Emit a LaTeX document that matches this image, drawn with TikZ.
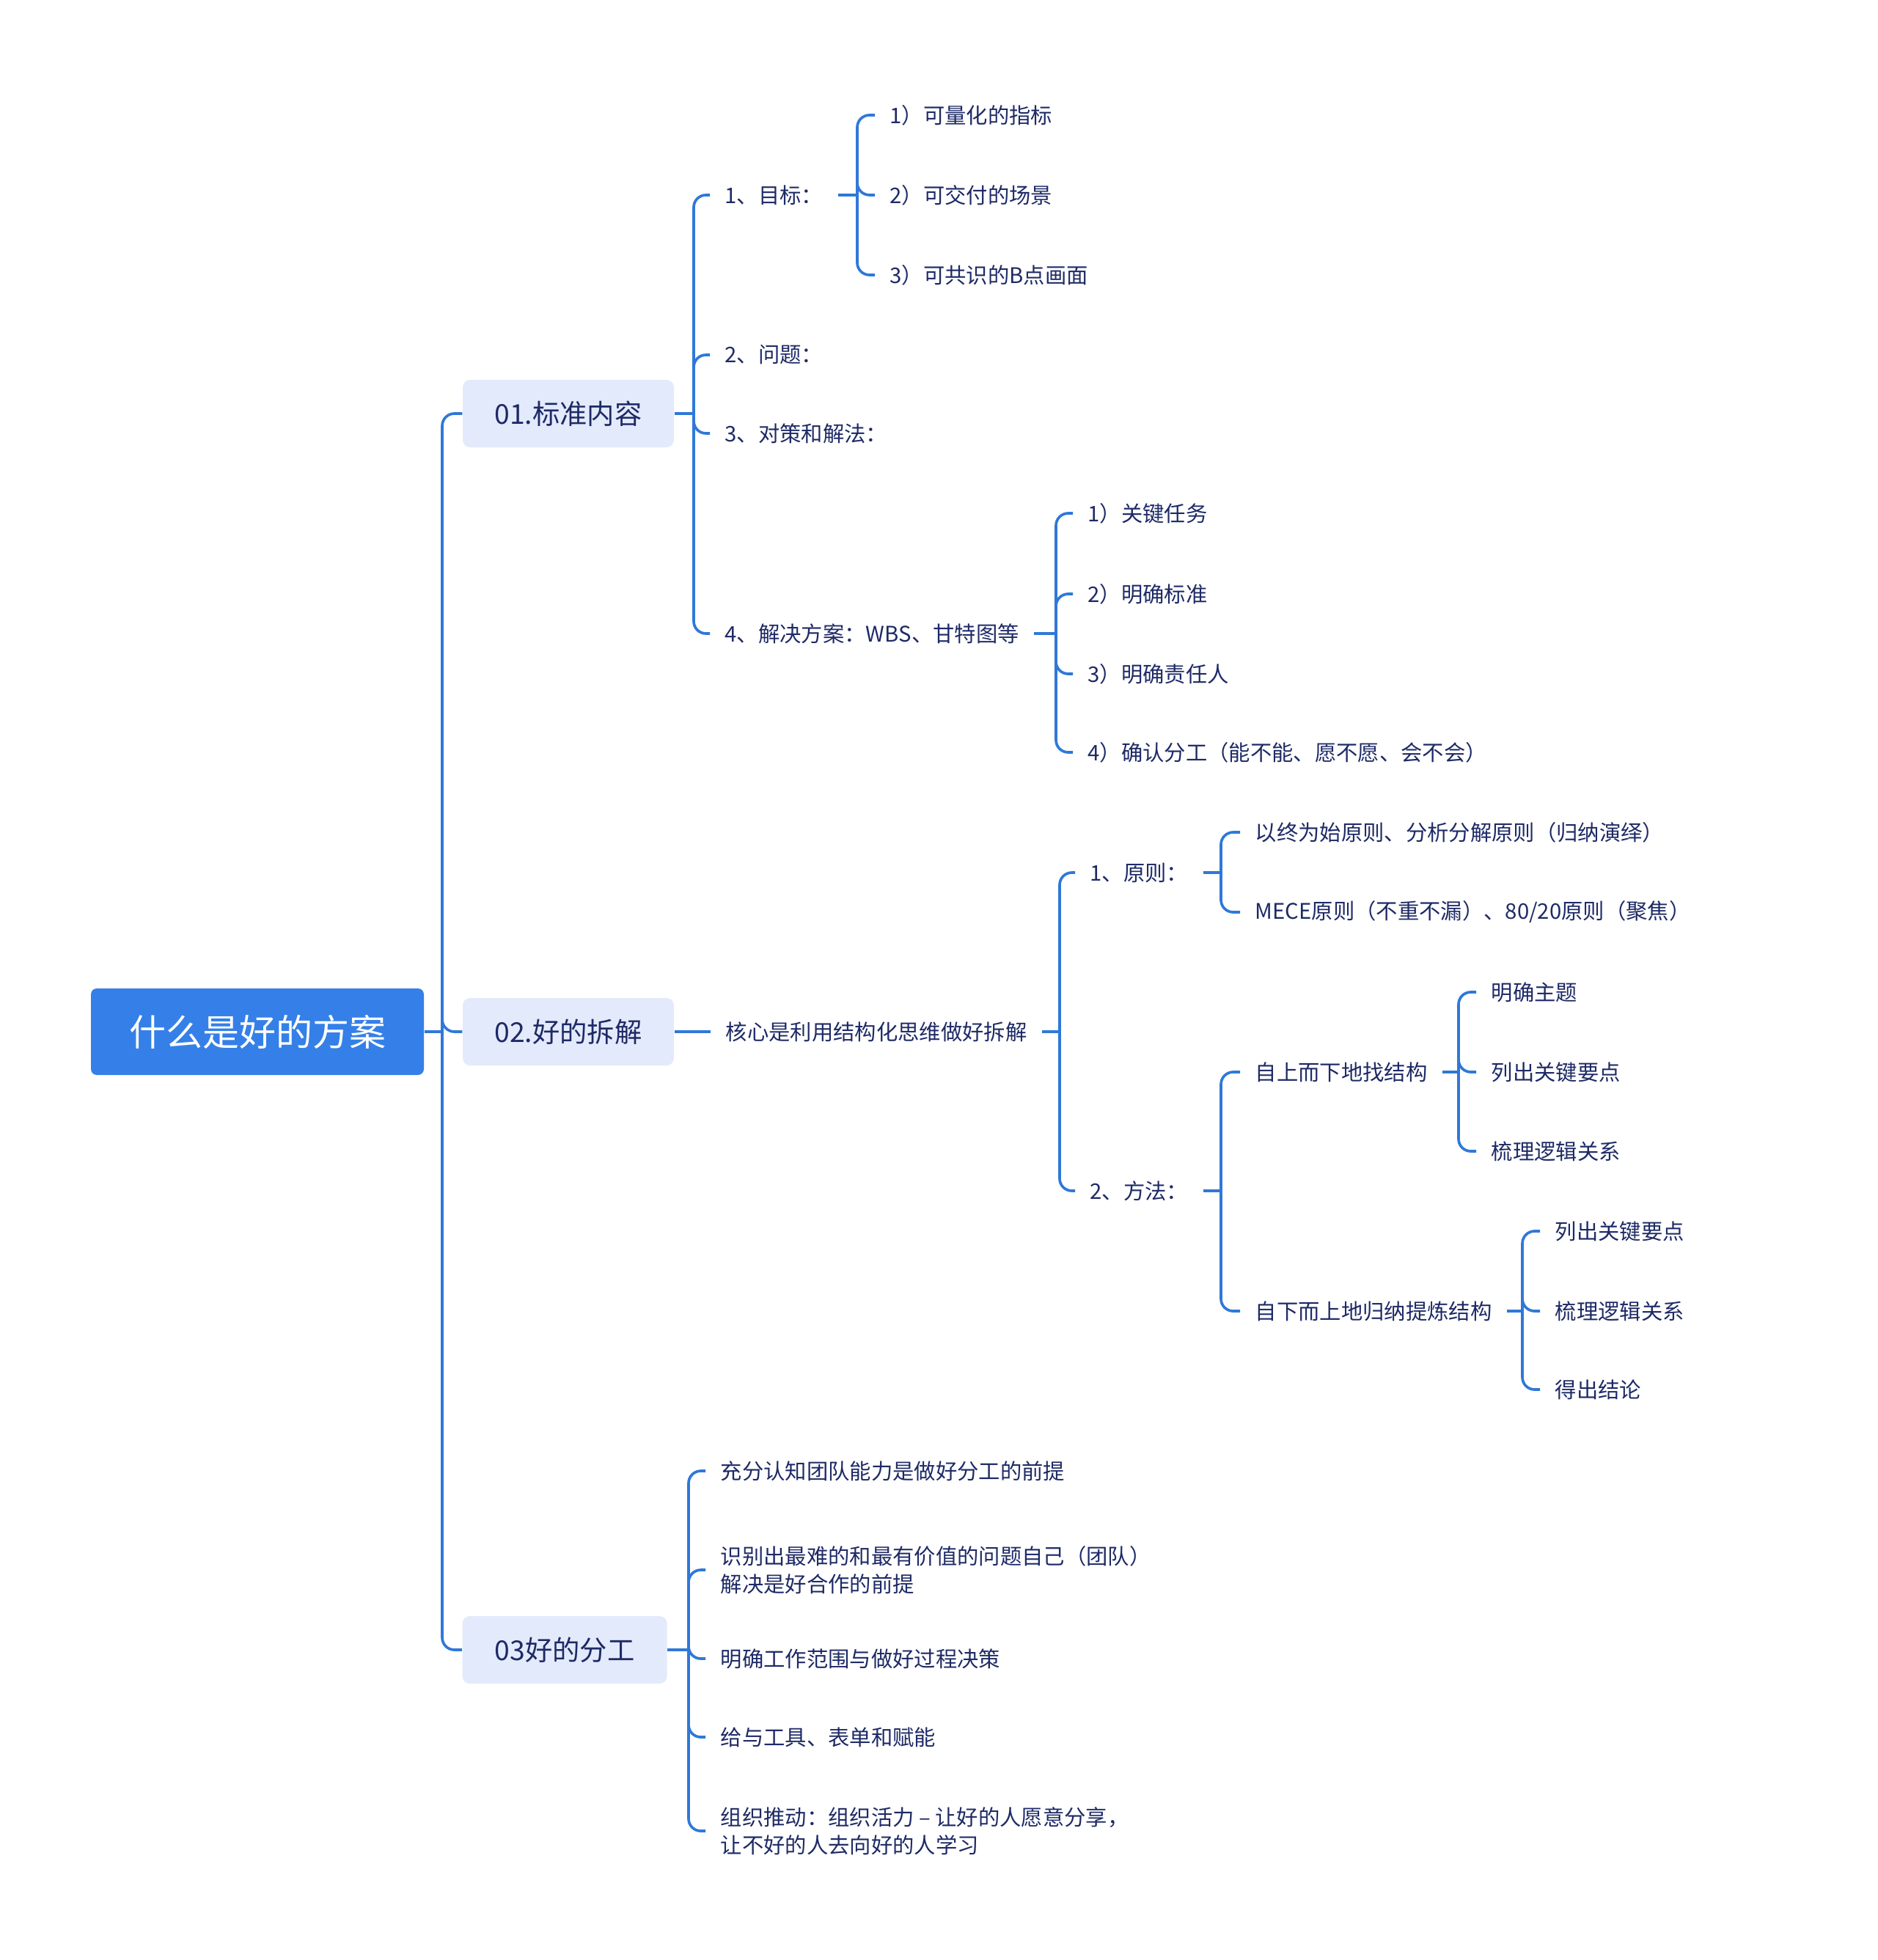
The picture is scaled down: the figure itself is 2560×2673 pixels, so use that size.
\documentclass[tikz,border=0pt]{standalone}
\usepackage{fontspec}
\setmainfont{Noto Sans CJK SC}
\usepackage{tikz}
\definecolor{rootblue}{HTML}{3580E8}
\definecolor{linkblue}{HTML}{2F78D8}
\definecolor{topicfill}{HTML}{E3EAFB}
\definecolor{inkblue}{HTML}{1E2A66}

\begin{document}
\begin{tikzpicture}[x=0.3pt, y=-0.3pt,
    link/.style={linkblue, line width=1.1pt},
    branch/.style={link, rounded corners=5pt},
    root/.style={fill=rootblue, text=white, rounded corners=2.4pt, minimum width=136.2pt, minimum height=35.4pt, font=\fontsize{15}{18}\selectfont},
    topic/.style={fill=topicfill, text=inkblue, rounded corners=3pt, minimum height=27.6pt, font=\fontsize{11.2}{13}\selectfont},
    leaf/.style={anchor=west, inner xsep=6pt, inner ysep=1pt, text=inkblue, align=left, font=\fontsize{8.8}{11.3}\selectfont}]
    \useasboundingbox (0,0) rectangle (2560,2673);

    % Root and the three main topics
    \node[root] (root) at (351,1407) {什么是好的方案};
    \node[topic, minimum width=86.4pt] (std) at (775,564) {01.标准内容};
    \node[topic, minimum width=86.4pt] (split) at (775,1407) {02.好的拆解};
    \node[topic, minimum width=83.7pt] (team) at (770,2250) {03好的分工};
    \coordinate (t0) at (603,1407);
    \draw[link] (root.east) -- (t0);
    \foreach \k in {std,split,team}
        \draw[branch] (t0) |- (\k.west);

    % 01 standard content
    \node[leaf] (goal)  at (968,266) {1、目标：};
    \node[leaf] (issue) at (968,484) {2、问题：};
    \node[leaf] (plan)  at (968,591) {3、对策和解法：};
    \node[leaf] (sol)   at (968,864) {4、解决方案：WBS、甘特图等};
    \coordinate (t1) at (946,564);
    \draw[link] (std.east) -- (t1);
    \foreach \k in {goal,issue,plan,sol}
        \draw[branch] (t1) |- (\k.west);

    % goal items
    \node[leaf] (g1) at (1193,157) {1）可量化的指标};
    \node[leaf] (g2) at (1193,266) {2）可交付的场景};
    \node[leaf] (g3) at (1193,375) {3）可共识的B点画面};
    \coordinate (t2) at (1169,266);
    \draw[link] (goal.east) -- (t2);
    \foreach \k in {g1,g2,g3}
        \draw[branch] (t2) |- (\k.west);

    % solution items
    \node[leaf] (s1) at (1463,700)  {1）关键任务};
    \node[leaf] (s2) at (1463,810)  {2）明确标准};
    \node[leaf] (s3) at (1463,919)  {3）明确责任人};
    \node[leaf] (s4) at (1463,1026) {4）确认分工（能不能、愿不愿、会不会）};
    \coordinate (t3) at (1440,864);
    \draw[link] (sol.east) -- (t3);
    \foreach \k in {s1,s2,s3,s4}
        \draw[branch] (t3) |- (\k.west);

    % 02 good splitting
    \node[leaf] (core) at (969,1407) {核心是利用结构化思维做好拆解};
    \draw[link] (split.east) -- (core.west);
    \node[leaf] (rule) at (1466,1190) {1、原则：};
    \node[leaf] (way)  at (1466,1624) {2、方法：};
    \coordinate (t4) at (1445,1407);
    \draw[link] (core.east) -- (t4);
    \foreach \k in {rule,way}
        \draw[branch] (t4) |- (\k.west);

    % principles
    \node[leaf] (r1) at (1691,1135) {以终为始原则、分析分解原则（归纳演绎）};
    \node[leaf] (r2) at (1691,1244) {MECE原则（不重不漏）、80/20原则（聚焦）};
    \coordinate (t5) at (1665,1190);
    \draw[link] (rule.east) -- (t5);
    \foreach \k in {r1,r2}
        \draw[branch] (t5) |- (\k.west);

    % methods
    \node[leaf] (down) at (1691,1462) {自上而下地找结构};
    \node[leaf] (up)   at (1691,1788) {自下而上地归纳提炼结构};
    \coordinate (t6) at (1665,1624);
    \draw[link] (way.east) -- (t6);
    \foreach \k in {down,up}
        \draw[branch] (t6) |- (\k.west);

    % top-down steps
    \node[leaf] (d1) at (2013,1353) {明确主题};
    \node[leaf] (d2) at (2013,1462) {列出关键要点};
    \node[leaf] (d3) at (2013,1570) {梳理逻辑关系};
    \coordinate (t7) at (1989,1462);
    \draw[link] (down.east) -- (t7);
    \foreach \k in {d1,d2,d3}
        \draw[branch] (t7) |- (\k.west);

    % bottom-up steps
    \node[leaf] (u1) at (2100,1679) {列出关键要点};
    \node[leaf] (u2) at (2100,1788) {梳理逻辑关系};
    \node[leaf] (u3) at (2100,1895) {得出结论};
    \coordinate (t8) at (2076,1788);
    \draw[link] (up.east) -- (t8);
    \foreach \k in {u1,u2,u3}
        \draw[branch] (t8) |- (\k.west);

    % 03 good division of work
    \node[leaf] (c1) at (962,2006) {充分认知团队能力是做好分工的前提};
    \node[leaf] (c2) at (962,2141) {识别出最难的和最有价值的问题自己（团队）\\解决是好合作的前提};
    \node[leaf] (c3) at (962,2262) {明确工作范围与做好过程决策};
    \node[leaf] (c4) at (962,2369) {给与工具、表单和赋能};
    \node[leaf] (c5) at (962,2497) {组织推动：组织活力 – 让好的人愿意分享，\\让不好的人去向好的人学习};
    \coordinate (t9) at (939,2250);
    \draw[link] (team.east) -- (t9);
    \foreach \k in {c1,c2,c3,c4,c5}
        \draw[branch] (t9) |- (\k.west);
\end{tikzpicture}
\end{document}
